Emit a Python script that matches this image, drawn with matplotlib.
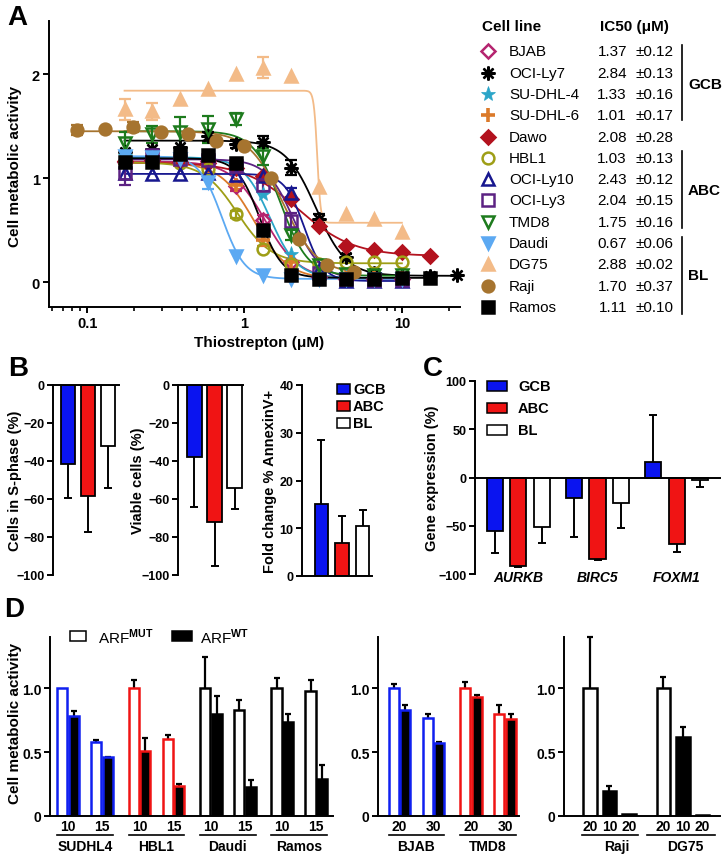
import numpy as np
import matplotlib
matplotlib.use('Agg')
import matplotlib.pyplot as plt
from matplotlib.patches import Rectangle
import matplotlib.transforms as mtransforms

plt.rcParams['font.family'] = ['Liberation Sans', 'DejaVu Sans']
plt.rcParams['font.weight'] = 'bold'
plt.rcParams['axes.labelweight'] = 'bold'
plt.rcParams['mathtext.fontset'] = 'custom'
plt.rcParams['mathtext.rm'] = 'Liberation Sans'
plt.rcParams['axes.linewidth'] = 1.4
plt.rcParams['xtick.major.width'] = 1.4
plt.rcParams['ytick.major.width'] = 1.4
plt.rcParams['xtick.minor.width'] = 1.2

# ---------------- panel A: dose response to thiostrepton ----------------
conc = [0.173, 0.26, 0.39, 0.585, 0.878, 1.317, 1.975, 2.963, 4.444, 6.667, 10.0]
conc_15 = [0.173, 0.26, 0.39, 0.585, 0.878, 1.317, 1.975, 2.963, 4.444, 6.667, 10.0, 15.0]
conc_22 = [0.173, 0.26, 0.39, 0.585, 0.878, 1.317, 1.975, 2.963, 4.444, 6.667, 10.0, 15.0, 22.5]
conc_raji = [0.0867, 0.13, 0.195, 0.293, 0.439, 0.658, 0.988, 1.481, 2.222, 3.333, 5.0]

act_bjab = [1.15, 1.16, 1.14, 1.16, 0.92, 0.60, 0.19, 0.05, 0.03, 0.03, 0.03]
act_ocily7 = [1.25, 1.28, 1.30, 1.40, 1.33, 1.35, 1.10, 0.61, 0.24, 0.09, 0.06, 0.06, 0.07]
act_sudhl4 = [1.21, 1.20, 1.18, 1.20, 1.12, 0.85, 0.27, 0.09, 0.05, 0.04, 0.04]
act_sudhl6 = [1.14, 1.15, 1.13, 1.12, 0.93, 0.40, 0.19, 0.06, 0.04, 0.04, 0.04]
act_dawo = [1.16, 1.17, 1.15, 1.14, 1.10, 1.02, 0.80, 0.54, 0.35, 0.31, 0.29, 0.25]
act_hbl1 = [1.15, 1.16, 1.14, 1.09, 0.65, 0.32, 0.17, 0.17, 0.19, 0.19, 0.19]
act_ocily10 = [1.05, 1.04, 1.04, 1.05, 1.03, 1.02, 0.86, 0.12, 0.01, 0.01, 0.01]
act_ocily3 = [1.05, 1.22, 1.18, 1.17, 1.12, 0.93, 0.59, 0.09, 0.03, 0.02, 0.02]
act_tmd8 = [1.34, 1.42, 1.44, 1.47, 1.57, 1.21, 0.45, 0.16, 0.08, 0.07, 0.07]
act_daudi = [1.21, 1.20, 1.18, 0.96, 0.25, 0.07, 0.03, 0.03, 0.03, 0.03, 0.03]
act_dg75 = [1.66, 1.64, 1.76, 1.86, 2.00, 2.06, 1.98, 0.91, 0.65, 0.61, 0.48]
act_raji = [1.46, 1.47, 1.49, 1.44, 1.42, 1.36, 1.31, 1.00, 0.41, 0.16, 0.10]
act_ramos = [1.15, 1.15, 1.23, 1.22, 1.14, 0.50, 0.07, 0.03, 0.03, 0.03, 0.04, 0.04]

sd_bjab = [0, 0, 0, 0, 0.04, 0.04, 0, 0, 0, 0, 0]
sd_ocily7 = [0, 0, 0, 0.04, 0.04, 0.05, 0.07, 0.04, 0.03, 0, 0, 0, 0]
sd_sudhl4 = [0] * 11
sd_sudhl6 = [0, 0, 0, 0, 0.04, 0.05, 0, 0, 0, 0, 0]
sd_dawo = [0] * 12
sd_hbl1 = [0, 0, 0, 0, 0.03, 0, 0, 0, 0, 0, 0]
sd_ocily10 = [0, 0, 0, 0, 0, 0, 0.04, 0, 0, 0, 0]
sd_ocily3 = [0.12, 0.05, 0, 0, 0, 0.05, 0.07, 0, 0, 0, 0]
sd_tmd8 = [0.10, 0.08, 0.15, 0.13, 0.06, 0.08, 0.05, 0, 0, 0, 0]
sd_daudi = [0, 0, 0, 0.07, 0, 0, 0, 0, 0, 0, 0]
sd_dg75 = [0.10, 0.08, 0, 0, 0, 0.10, 0, 0, 0, 0, 0]
sd_raji = [0.05, 0, 0.05, 0, 0, 0, 0, 0, 0, 0, 0]
sd_ramos = [0, 0, 0, 0, 0.04, 0.04, 0, 0, 0, 0, 0, 0]

cell_lines = ['BJAB', 'OCI-Ly7', 'SU-DHL-4', 'SU-DHL-6', 'Dawo', 'HBL1', 'OCI-Ly10',
              'OCI-Ly3', 'TMD8', 'Daudi', 'DG75', 'Raji', 'Ramos']
ic50 = ['1.37', '2.84', '1.33', '1.01', '2.08', '1.03', '2.43', '2.04', '1.75', '0.67', '2.88', '1.70', '1.11']
ic50_sd = ['\u00b10.12', '\u00b10.13', '\u00b10.16', '\u00b10.17', '\u00b10.28', '\u00b10.13', '\u00b10.12',
           '\u00b10.15', '\u00b10.16', '\u00b10.06', '\u00b10.02', '\u00b10.37', '\u00b10.10']

# 4-parameter fit used for the drawn curves
fit_top = [1.16, 1.36, 1.20, 1.15, 1.15, 1.15, 1.04, 1.18, 1.45, 1.21, 1.84, 1.45, 1.19]
fit_bottom = [0.03, 0.06, 0.04, 0.03, 0.25, 0.18, 0.01, 0.03, 0.06, 0.03, 0.57, 0.08, 0.04]
fit_ec50 = [1.35, 2.85, 1.45, 1.15, 2.2, 0.9, 2.4, 2.05, 1.7, 0.72, 2.9, 1.75, 1.25]
fit_hill = [4.0, 4.5, 5.0, 4.0, 2.5, 4.0, 7.0, 5.0, 5.0, 6.0, 40.0, 4.0, 6.0]

# ---------------- panel B ----------------
groups = ['GCB', 'ABC', 'BL']
sphase = [-41.5, -58.4, -32.0]
sphase_sd = [18.0, 19.0, 22.0]
viable = [-38.0, -72.0, -54.0]
viable_sd = [26.0, 23.0, 11.5]
annexin = [15.1, 6.9, 10.5]
annexin_sd = [13.4, 5.7, 3.3]

# ---------------- panel C ----------------
genes = ['AURKB', 'BIRC5', 'FOXM1']
expr_gcb = [-55.0, -21.0, 16.4]
expr_gcb_sd = [23.5, 41.0, 48.6]
expr_abc = [-92.0, -84.0, -69.0]
expr_abc_sd = [0.8, 1.0, 8.0]
expr_bl = [-51.0, -26.6, -3.0]
expr_bl_sd = [17.0, 25.4, 6.4]

# ---------------- panel D ----------------
d1_lines = ['SUDHL4', 'HBL1', 'Daudi', 'Ramos']
d1_doses = ['10', '15']
d1_mut = [1.0, 0.58, 1.0, 0.60, 1.0, 0.83, 1.0, 0.98]
d1_mut_sd = [0.0, 0.015, 0.06, 0.03, 0.245, 0.08, 0.078, 0.085]
d1_wt = [0.78, 0.46, 0.505, 0.235, 0.80, 0.225, 0.735, 0.29]
d1_wt_sd = [0.04, 0.005, 0.105, 0.013, 0.14, 0.055, 0.065, 0.11]

d2_lines = ['BJAB', 'TMD8']
d2_doses = ['20', '30']
d2_mut = [1.0, 0.77, 1.0, 0.80]
d2_mut_sd = [0.035, 0.03, 0.05, 0.065]
d2_wt = [0.83, 0.57, 0.93, 0.76]
d2_wt_sd = [0.04, 0.01, 0.015, 0.04]

d3_lines = ['Raji', 'DG75']
d3_doses = ['20', '10', '20']
d3_mut = [1.0, 1.0]
d3_mut_sd = [0.40, 0.09]
d3_wt10 = [0.198, 0.615]
d3_wt10_sd = [0.04, 0.085]
d3_wt20 = [0.015, 0.005]

# ---------------- styling ----------------
line_colors = ['#B5246F', '#000000', '#2BA5C8', '#DB7A2A', '#B3121E', '#9E9E16', '#17178F',
               '#5C2283', '#1D7B1D', '#5CA9F2', '#F3BB88', '#A6742F', '#000000']
line_markers = ['D', (8, 2, 0), '*', '+', 'D', 'o', '^', 's', 'v', 'v', '^', 'o', 's']
line_open = [True, False, False, False, False, True, True, True, True, False, False, False, False]
line_ms = [7, 10, 11, 10, 7.5, 8.5, 8.5, 8, 8.5, 8.5, 8.5, 8.5, 8]
grp_colors = ['#0A14F0', '#F01414', 'white']
BLUE, RED = '#1020F0', '#F01414'

W, H = 728, 862
fig = plt.figure(figsize=(W / 100, H / 100), dpi=100)


def box(x0, y0, x1, y1):
    return fig.add_axes([x0 / W, 1 - y1 / H, (x1 - x0) / W, (y1 - y0) / H])


def ftext(x, y, s, **kw):
    fig.text(x / W, 1 - y / H, s, **kw)


def err_out(ax, xs, ys, es, cap=6, lw=1.4):
    # one-sided error bars pointing away from zero
    for xi, yi, ei in zip(xs, ys, es):
        if ei <= 0:
            continue
        end = yi + ei if yi >= 0 else yi - ei
        ax.plot([xi, xi], [yi, end], color='black', lw=lw, zorder=1, solid_capstyle='butt')
        ax.plot([xi], [end], marker='_', ms=cap, mew=lw, color='black', zorder=1, clip_on=False)


def marker_kw(i):
    mk = line_markers[i]
    c = line_colors[i]
    mew = 1.8
    if mk == '+':
        mew = 2.6
    if isinstance(mk, tuple):
        mew = 1.7
    if mk == '*':
        mew = 0.5
    return dict(marker=mk, ms=line_ms[i], mec=c, mfc='none' if line_open[i] else c, mew=mew)


# ================= A =================
axA = box(49, 22, 460, 308)
axA.set_xscale('log')
axA.set_xlim(0.0573, 23.4)
axA.set_ylim(-0.24, 2.51)

xs_all = [conc, conc_22, conc, conc, conc_15, conc, conc, conc, conc, conc, conc, conc_raji, conc_15]
ys_all = [act_bjab, act_ocily7, act_sudhl4, act_sudhl6, act_dawo, act_hbl1, act_ocily10,
          act_ocily3, act_tmd8, act_daudi, act_dg75, act_raji, act_ramos]
es_all = [sd_bjab, sd_ocily7, sd_sudhl4, sd_sudhl6, sd_dawo, sd_hbl1, sd_ocily10,
          sd_ocily3, sd_tmd8, sd_daudi, sd_dg75, sd_raji, sd_ramos]

for i, name in enumerate(cell_lines):
    x = np.array(xs_all[i])
    y = np.array(ys_all[i])
    e = np.array(es_all[i], dtype=float)
    c = line_colors[i]
    xx = np.logspace(np.log10(x.min()), np.log10(x.max()), 400)
    yy = fit_bottom[i] + (fit_top[i] - fit_bottom[i]) / (1 + (xx / fit_ec50[i]) ** fit_hill[i])
    axA.plot(xx, yy, color=c, lw=1.3, zorder=2)
    m = e > 0
    if m.any():
        axA.errorbar(x[m], y[m], yerr=e[m], fmt='none', ecolor=c, elinewidth=1.6,
                     capsize=4, capthick=1.6, zorder=3)
    axA.plot(x, y, ls='none', zorder=4, clip_on=False, **marker_kw(i))

axA.spines['top'].set_visible(False)
axA.spines['right'].set_visible(False)
axA.set_xticks([0.1, 1, 10])
axA.set_xticklabels(['0.1', '1', '10'])
axA.set_xticks([0.06, 0.07, 0.08, 0.09, 0.2, 0.3, 0.4, 0.5, 0.6, 0.7, 0.8, 0.9,
                2, 3, 4, 5, 6, 7, 8, 9, 20], minor=True)
axA.xaxis.set_minor_formatter(matplotlib.ticker.NullFormatter())
axA.set_yticks([0, 1, 2])
axA.tick_params(axis='both', which='major', direction='out', length=4.5, labelsize=10.5, pad=2)
axA.tick_params(axis='x', which='minor', direction='out', length=3)
ftext(259, 343, 'Thiostrepton (\u03bcM)', ha='center', va='center', fontsize=11)
ftext(15, 166, 'Cell metabolic activity', ha='center', va='center', rotation=90, fontsize=11)

# overlay in pixel coordinates for the table and legends
ov = fig.add_axes([0, 0, 1, 1], zorder=10)
ov.set_xlim(0, W)
ov.set_ylim(H, 0)
ov.axis('off')

ov.text(482, 27, 'Cell line', ha='left', va='center', fontsize=11)
ov.text(600, 27, 'IC50 (\u03bcM)', ha='left', va='center', fontsize=11)
row_y0, row_dy = 52.3, 21.3
for i, name in enumerate(cell_lines):
    yr = row_y0 + i * row_dy
    ov.plot([488], [yr], ls='none', clip_on=False, **marker_kw(i))
    ov.text(509, yr, name, ha='left', va='center', fontsize=11, fontweight='normal')
    ov.text(627, yr, ic50[i], ha='right', va='center', fontsize=11, fontweight='normal')
    ov.text(636, yr, ic50_sd[i], ha='left', va='center', fontsize=11, fontweight='normal')
for (ya, yb), lab, yl in [((46, 121), 'GCB', 85), ((152, 229), 'ABC', 191), ((238, 315), 'BL', 276)]:
    ov.plot([682, 682], [ya, yb], color='black', lw=1.2)
    ov.text(688, yl, lab, ha='left', va='center', fontsize=11)

# ================= B =================
xb = np.arange(3)


def b_neg_axes(x0, x1, xl, vals, sds, ylabel, ylx):
    ax = box(x0, 386, x1, 576)
    ax.bar(xb, vals, width=0.72, color=grp_colors, edgecolor='black', linewidth=1.3, zorder=2)
    err_out(ax, xb, vals, sds, cap=6)
    ax.set_ylim(-100, 0)
    ax.set_xlim(*xl)
    ax.spines['bottom'].set_visible(False)
    ax.spines['right'].set_visible(False)
    ax.set_xticks([])
    ax.set_yticks([0, -20, -40, -60, -80, -100])
    ax.tick_params(axis='y', direction='out', length=4, labelsize=9, pad=2)
    ftext(ylx, 481, ylabel, ha='center', va='center', rotation=90, fontsize=10.5)
    return ax


b_neg_axes(53, 119, (-0.75, 2.55), sphase, sphase_sd, 'Cells in S-phase (%)', 15)
b_neg_axes(178, 243, (-0.82, 2.42), viable, viable_sd, 'Viable cells (%)', 138)

axB3 = box(302, 386, 372, 577)
axB3.bar(xb, annexin, width=0.65, color=grp_colors, edgecolor='black', linewidth=1.3, zorder=2)
err_out(axB3, xb, annexin, annexin_sd, cap=6)
axB3.set_ylim(0, 40)
axB3.set_xlim(-0.94, 2.45)
axB3.spines['top'].set_visible(False)
axB3.spines['right'].set_visible(False)
axB3.set_xticks([])
axB3.set_yticks([0, 10, 20, 30, 40])
axB3.tick_params(axis='y', direction='out', length=4, labelsize=9, pad=2)
ftext(270, 481, 'Fold change % AnnexinV+', ha='center', va='center', rotation=90, fontsize=10.5)

for k, g in enumerate(groups):
    yc = 390 + k * 17
    ov.add_patch(Rectangle((337, yc - 5), 13, 10, facecolor=grp_colors[k], edgecolor='black', lw=1.1))
    ov.text(353, yc, g, ha='left', va='center', fontsize=10.5)

# ================= C =================
axC = box(475, 382, 720, 575)
xc = np.arange(len(genes)) * 3.4
for k, (vals, sds) in enumerate([(expr_gcb, expr_gcb_sd), (expr_abc, expr_abc_sd), (expr_bl, expr_bl_sd)]):
    axC.bar(xc + k, vals, width=0.69, color=grp_colors[k], edgecolor='black', linewidth=1.3, zorder=2)
    err_out(axC, xc + k, vals, sds, cap=6)
axC.set_ylim(-100, 100)
axC.set_xlim(-0.86, 9.66)
axC.spines['top'].set_visible(False)
axC.spines['right'].set_visible(False)
axC.spines['bottom'].set_position(('data', 0))
axC.set_xticks([])
axC.set_yticks([100, 50, 0, -50, -100])
axC.tick_params(axis='y', direction='out', length=4, labelsize=9, pad=2)
for k, g in enumerate(genes):
    axC.text(xc[k] + 1, -103, g, ha='center', va='center', fontsize=10, style='italic', clip_on=False)
ftext(432, 478, 'Gene expression (%)', ha='center', va='center', rotation=90, fontsize=10.5)
for k, g in enumerate(groups):
    yc = 387 + k * 22
    ov.add_patch(Rectangle((487, yc - 5), 20, 10, facecolor=grp_colors[k], edgecolor='black', lw=1.1))
    ov.text(518, yc, g, ha='left', va='center', fontsize=10.5)

# ================= D =================
def d_axes(x0, x1, xl):
    ax = box(x0, 638, x1, 817)
    ax.set_ylim(0, 1.4)
    ax.set_xlim(*xl)
    ax.spines['top'].set_visible(False)
    ax.spines['right'].set_visible(False)
    ax.set_xticks([])
    ax.set_yticks([0, 0.5, 1.0])
    ax.set_yticklabels(['0', '0.5', '1.0'])
    ax.tick_params(axis='y', direction='out', length=4, labelsize=10, pad=2)
    return ax


def under(ax, x, y_ax, s, **kw):
    tr = mtransforms.blended_transform_factory(ax.transData, ax.transAxes)
    ax.text(x, y_ax, s, transform=tr, ha='center', va='center', clip_on=False, **kw)


def group_line(ax, xa, xb_):
    tr = mtransforms.blended_transform_factory(ax.transData, ax.transAxes)
    ax.plot([xa, xb_], [-0.106, -0.106], transform=tr, color='black', lw=1.2, clip_on=False)


def paired_panel(ax, lines, doses, mut, mut_sd, wt, wt_sd, edge_cols):
    k = 0
    for g, ln in enumerate(lines):
        for d, dose in enumerate(doses):
            c = 2.1 * g + d
            ax.bar(c - 0.17, mut[k], width=0.3, color='white', edgecolor=edge_cols[g], linewidth=1.8, zorder=2)
            ax.bar(c + 0.17, wt[k], width=0.3, color='black', edgecolor=edge_cols[g], linewidth=1.8, zorder=2)
            err_out(ax, [c - 0.17], [mut[k]], [mut_sd[k]], cap=4, lw=1.6)
            err_out(ax, [c + 0.17], [wt[k]], [wt_sd[k]], cap=4, lw=1.6)
            under(ax, c, -0.056, dose, fontsize=10)
            k += 1
        group_line(ax, 2.1 * g - 0.32, 2.1 * g + 1.32)
        under(ax, 2.1 * g + 0.5, -0.168, ln, fontsize=10)


axD1 = d_axes(50, 333, (-0.53, 7.79))
paired_panel(axD1, d1_lines, d1_doses, d1_mut, d1_mut_sd, d1_wt, d1_wt_sd, [BLUE, RED, 'black', 'black'])
axD2 = d_axes(378, 519, (-0.63, 3.51))
paired_panel(axD2, d2_lines, d2_doses, d2_mut, d2_mut_sd, d2_wt, d2_wt_sd, [BLUE, RED])

axD3 = d_axes(564, 720, (-1.33, 6.67))
for g, ln in enumerate(d3_lines):
    x0 = 3.77 * g
    axD3.bar(x0, d3_mut[g], width=0.68, color='white', edgecolor='black', linewidth=1.8, zorder=2)
    axD3.bar(x0 + 1, d3_wt10[g], width=0.68, color='black', edgecolor='black', linewidth=1.8, zorder=2)
    axD3.bar(x0 + 2, d3_wt20[g], width=0.68, color='black', edgecolor='black', linewidth=1.8, zorder=2)
    err_out(axD3, [x0], [d3_mut[g]], [d3_mut_sd[g]], cap=4, lw=1.6)
    err_out(axD3, [x0 + 1], [d3_wt10[g]], [d3_wt10_sd[g]], cap=4, lw=1.6)
    for j, dose in enumerate(d3_doses):
        under(axD3, x0 + j, -0.056, dose, fontsize=10)
    group_line(axD3, x0 - 0.41 - 0.44 * g, x0 + 2.46 + 0.18 * g)
    under(axD3, x0 + 1.38 - 0.28 * g, -0.168, ln, fontsize=10)

ftext(15, 723, 'Cell metabolic activity', ha='center', va='center', rotation=90, fontsize=11)
ov.add_patch(Rectangle((70, 632), 16, 10, facecolor='white', edgecolor='black', lw=1.1))
ov.text(98, 637, r'ARF$^{\mathrm{MUT}}$', ha='left', va='center', fontsize=11, fontweight='normal')
ov.add_patch(Rectangle((172, 632), 20, 10, facecolor='black', edgecolor='black', lw=1.1))
ov.text(200, 637, r'ARF$^{\mathrm{WT}}$', ha='left', va='center', fontsize=11, fontweight='normal')

# panel letters
ftext(17, 18, 'A', ha='center', va='center', fontsize=20)
ftext(18, 369, 'B', ha='center', va='center', fontsize=20)
ftext(433, 369, 'C', ha='center', va='center', fontsize=20)
ftext(14, 610, 'D', ha='center', va='center', fontsize=20)

fig.savefig('out.png', dpi=100)
